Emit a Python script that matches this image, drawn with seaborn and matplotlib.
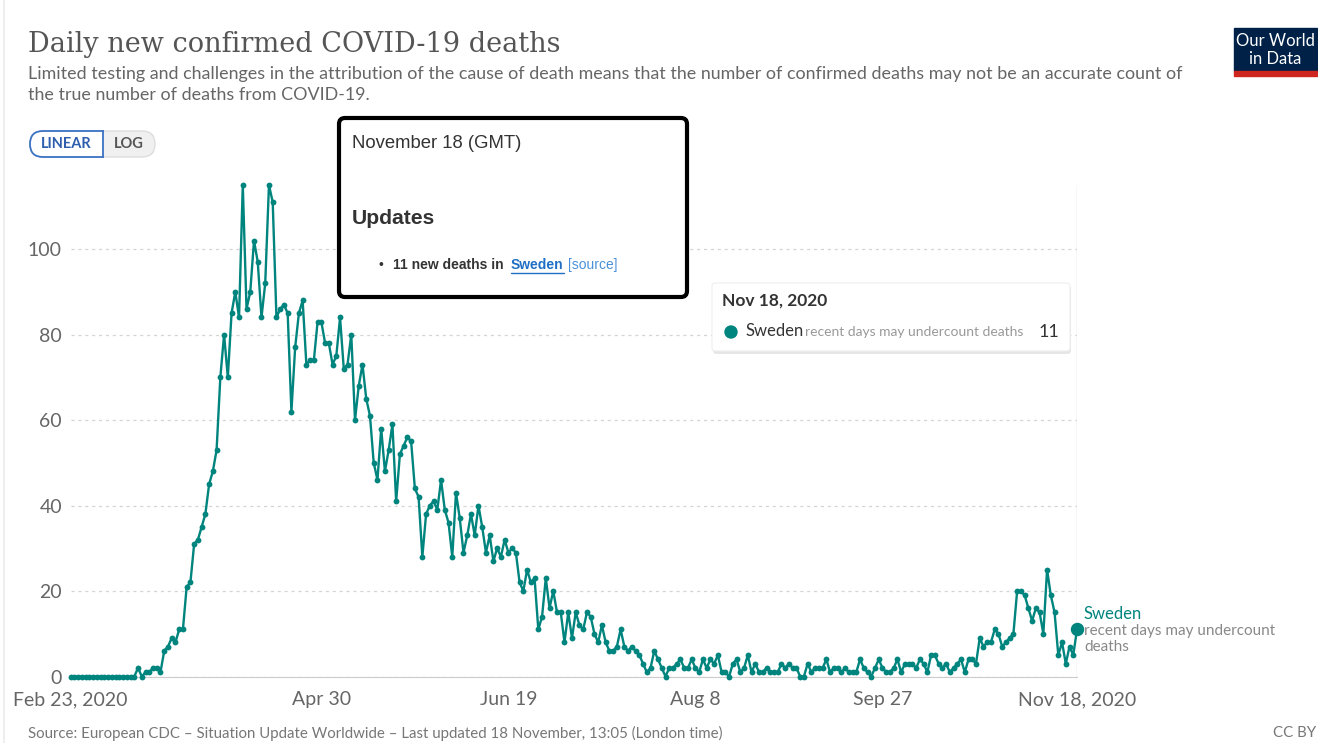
import pandas as pd
import matplotlib.pyplot as plt
import seaborn as sns
from matplotlib.patches import FancyBboxPatch, Rectangle, Circle

# Daily new confirmed COVID-19 deaths, Sweden, from Feb 23 2020
start_date = "2020-02-23"
deaths = [
    0, 0, 0, 0, 0, 0, 0, 0, 0, 0,
    0, 0, 0, 0, 0, 0, 0, 0, 2, 0,
    1, 1, 2, 2, 1, 6, 7, 9, 8, 11,
    11, 21, 22, 31, 32, 35, 38, 45, 48, 53,
    70, 80, 70, 85, 90, 84, 115, 86, 90, 102,
    97, 84, 92, 115, 111, 84, 86, 87, 85, 62,
    77, 85, 88, 73, 74, 74, 83, 83, 78, 78,
    73, 75, 84, 72, 73, 80, 60, 68, 73, 65,
    61, 50, 46, 58, 48, 53, 59, 41, 52, 54,
    56, 55, 44, 42, 28, 38, 40, 41, 39, 46,
    39, 36, 28, 43, 37, 29, 33, 38, 33, 40,
    35, 29, 33, 27, 30, 28, 32, 29, 30, 29,
    22, 20, 25, 22, 23, 11, 14, 23, 16, 20,
    15, 15, 8, 15, 9, 15, 12, 11, 15, 14,
    10, 8, 12, 8, 6, 6, 7, 11, 7, 6,
    7, 6, 5, 3, 1, 2, 6, 4, 2, 0,
    2, 2, 3, 4, 2, 2, 4, 2, 1, 4,
    2, 4, 3, 5, 1, 1, 0, 3, 4, 1,
    2, 5, 1, 3, 1, 1, 2, 1, 1, 1,
    3, 2, 3, 2, 2, 0, 0, 3, 1, 2,
    2, 2, 4, 1, 2, 2, 1, 2, 1, 1,
    1, 4, 2, 1, 0, 2, 4, 2, 1, 1,
    2, 4, 1, 3, 3, 3, 2, 4, 3, 1,
    5, 5, 3, 2, 3, 1, 2, 3, 4, 1,
    4, 4, 3, 9, 7, 8, 8, 11, 10, 7,
    8, 9, 10, 20, 20, 19, 16, 13, 16, 15,
    10, 25, 19, 15, 5, 8, 3, 7, 5, 11,
]
tick_dates = ["2020-02-23", "2020-04-30", "2020-06-19", "2020-08-08", "2020-09-27", "2020-11-18"]
tick_labels = ["Feb 23, 2020", "Apr 30", "Jun 19", "Aug 8", "Sep 27", "Nov 18, 2020"]
y_ticks = [0, 20, 40, 60, 80, 100]
country = "Sweden"

df = pd.DataFrame({
    "date": pd.date_range(start_date, periods=len(deaths), freq="D"),
    "deaths": deaths,
})
last = df.iloc[-1]

sns.set_style("white")
plt.rcParams["font.family"] = ["Lato", "DejaVu Sans"]

teal = "#00847e"
W, H = 1318, 743

fig = plt.figure(figsize=(W / 100, H / 100), dpi=100)
ax = fig.add_axes([70.7 / W, 1 - 676.5 / H, (1077 - 70.7) / W, (676.5 - 185) / H])

ax.set_axisbelow(True)
ax.grid(axis="y", linestyle=(0, (2.5, 3)), color="#d5d5d5", linewidth=0.9)
ax.axvline(last["date"], color="#dddddd", linewidth=1, zorder=1)

sns.lineplot(data=df, x="date", y="deaths", ax=ax, color=teal, linewidth=1.7,
             marker="o", markersize=4.2, markeredgewidth=0, clip_on=False, zorder=3)
ax.scatter([last["date"]], [last["deaths"]], s=75, color=teal, zorder=4, clip_on=False)

ax.set_xlim(df["date"].iloc[0], last["date"])
ax.set_ylim(0, 115)
ax.set_xticks(pd.to_datetime(tick_dates))
ax.set_xticklabels(tick_labels)
ax.set_yticks(y_ticks)
ax.tick_params(axis="x", length=3, color="#cccccc", labelsize=14, labelcolor="#666666", pad=7.5)
ax.tick_params(axis="y", length=0, labelsize=14, labelcolor="#666666", pad=6.3)
ax.set_xlabel("")
ax.set_ylabel("")
for side in ["top", "right", "left"]:
    ax.spines[side].set_visible(False)
ax.spines["bottom"].set_color("#cccccc")

# end-of-line label
ax.annotate(country, (last["date"], last["deaths"]), xytext=(5, 11), textcoords="offset points",
            color=teal, fontsize=12, va="center", ha="left", annotation_clip=False)
ax.annotate("recent days may undercount", (last["date"], last["deaths"]), xytext=(5, -1),
            textcoords="offset points", color="#888888", fontsize=11, va="center", annotation_clip=False)
ax.annotate("deaths", (last["date"], last["deaths"]), xytext=(5, -12.5),
            textcoords="offset points", color="#888888", fontsize=11, va="center", annotation_clip=False)

# overlay in pixel coordinates for the page furniture
ov = fig.add_axes([0, 0, 1, 1], zorder=5)
ov.set_xlim(0, W)
ov.set_ylim(H, 0)
ov.axis("off")
ov.patch.set_visible(False)

ov.plot([4, 4], [0, H], color="#eeeeee", linewidth=1.5)

ov.text(28, 45, "Daily new confirmed COVID-19 deaths", family=["DejaVu Serif"],
        fontsize=19.5, color="#555555", va="center")
ov.text(28, 74, "Limited testing and challenges in the attribution of the cause of death means that "
        "the number of confirmed deaths may not be an accurate count of",
        fontsize=12.85, color="#666666", va="center")
ov.text(28, 95, "the true number of deaths from COVID-19.", fontsize=12.85, color="#666666", va="center")

# Our World in Data logo
ov.add_patch(Rectangle((1234, 28), 83, 43, color="#002147"))
ov.add_patch(Rectangle((1234, 71), 83, 5, color="#ce261e"))
ov.text(1275.5, 41, "Our World", color="white", fontsize=12, ha="center", va="center")
ov.text(1275.5, 59, "in Data", color="white", fontsize=12, ha="center", va="center")

# LINEAR / LOG toggle
ov.add_patch(FancyBboxPatch((30, 131), 125, 26, boxstyle="round,pad=0,rounding_size=13",
                            facecolor="#f0f0f0", edgecolor="#dddddd", linewidth=1))
lin = FancyBboxPatch((30, 131), 100, 26, boxstyle="round,pad=0,rounding_size=13",
                     facecolor="white", edgecolor="#3b73c4", linewidth=1.3)
ov.add_patch(lin)
lin.set_clip_path(Rectangle((0, 0), 103.5, H, transform=ov.transData))
ov.plot([103, 103], [131, 157], color="#3b73c4", linewidth=1.3)
ov.text(66, 144.5, "LINEAR", color="#2d5fae", fontsize=10.5, fontweight="bold", ha="center", va="center")
ov.text(129, 144.5, "LOG", color="#555555", fontsize=10.5, fontweight="bold", ha="center", va="center")

# updates box
sans = ["Liberation Sans", "DejaVu Sans"]
ov.add_patch(FancyBboxPatch((339, 118), 348, 179, boxstyle="round,pad=0,rounding_size=6",
                            facecolor="white", edgecolor="black", linewidth=3))
ov.text(352, 144, "November 18 (GMT)", family=sans, fontsize=13.3, color="#333333", va="center")
ov.text(352, 218, "Updates", family=sans, fontsize=15.2, fontweight="bold", color="#333333", va="center")
ov.text(381, 265, "\u2022", family=sans, fontsize=10, color="#333333", va="center", ha="center")
ov.text(393, 265, "11 new deaths in", family=sans, fontsize=10, fontweight="bold", color="#333333", va="center")
ov.text(511, 265, "Sweden", family=sans, fontsize=10, fontweight="bold", color="#1f6fc5", va="center")
ov.plot([511, 564], [272.5, 272.5], color="#1f6fc5", linewidth=1)
ov.text(568, 265, "[source]", family=sans, fontsize=10, color="#4a90d9", va="center")

# hover tooltip
ov.add_patch(FancyBboxPatch((713, 286), 358, 68, boxstyle="round,pad=0,rounding_size=3",
                            facecolor="#e6e6e6", edgecolor="none"))
ov.add_patch(FancyBboxPatch((712, 283), 358, 68, boxstyle="round,pad=0,rounding_size=3",
                            facecolor="white", edgecolor="#eeeeee", linewidth=0.8))
ov.text(722, 301, "Nov 18, 2020", fontsize=12.5, fontweight="bold", color="#333333", va="center")
ov.add_patch(Circle((731, 332), 6, color=teal))
ov.text(745, 331, country, fontsize=12, color="#333333", va="center")
ov.text(805, 332, "recent days may undercount deaths", fontsize=10, color="#999999", va="center")
ov.text(1059, 332, str(last["deaths"]), fontsize=13, color="#333333", va="center", ha="right")

# footer
ov.text(28, 733, "Source: European CDC \u2013 Situation Update Worldwide \u2013 Last updated "
        "18 November, 13:05 (London time)", fontsize=10.85, color="#777777", va="center")
ov.text(1316, 733, "CC BY", fontsize=10.85, color="#777777", va="center", ha="right")

fig.savefig("out.png", dpi=100)
